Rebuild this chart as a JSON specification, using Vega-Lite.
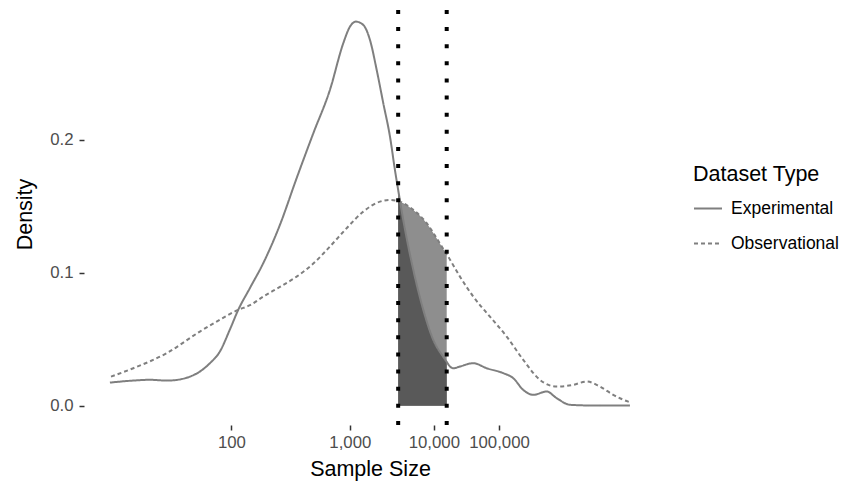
{
  "$schema": "https://vega.github.io/schema/vega-lite/v6.json",
  "width": 572,
  "height": 422,
  "autosize": {"type": "none"},
  "padding": {"left": 84, "top": 3, "right": 188, "bottom": 60},
  "background": "white",
  "config": {
    "view": {"stroke": null},
    "font": "Liberation Sans",
    "axis": {
      "grid": false,
      "domain": false,
      "tickColor": "#333333",
      "tickSize": 5,
      "tickWidth": 1.5,
      "labelColor": "#4D4D4D",
      "labelFont": "Liberation Sans",
      "labelFontSize": 16.8,
      "titleFont": "Liberation Sans",
      "titleFontSize": 21.5,
      "titleFontWeight": "normal",
      "titleColor": "#000000"
    },
    "legend": {
      "titleFont": "Liberation Sans",
      "labelFont": "Liberation Sans"
    }
  },
  "datasets": {
    "curves": [
      {"type": "Experimental", "log10_sample_size": 1.319, "density": 0.0175},
      {"type": "Experimental", "log10_sample_size": 1.427, "density": 0.0190},
      {"type": "Experimental", "log10_sample_size": 1.513, "density": 0.0196},
      {"type": "Experimental", "log10_sample_size": 1.604, "density": 0.0190},
      {"type": "Experimental", "log10_sample_size": 1.677, "density": 0.0199},
      {"type": "Experimental", "log10_sample_size": 1.735, "density": 0.0220},
      {"type": "Experimental", "log10_sample_size": 1.795, "density": 0.0258},
      {"type": "Experimental", "log10_sample_size": 1.858, "density": 0.0321},
      {"type": "Experimental", "log10_sample_size": 1.923, "density": 0.0410},
      {"type": "Experimental", "log10_sample_size": 1.990, "density": 0.0576},
      {"type": "Experimental", "log10_sample_size": 2.047, "density": 0.0722},
      {"type": "Experimental", "log10_sample_size": 2.131, "density": 0.0887},
      {"type": "Experimental", "log10_sample_size": 2.230, "density": 0.1073},
      {"type": "Experimental", "log10_sample_size": 2.361, "density": 0.1361},
      {"type": "Experimental", "log10_sample_size": 2.500, "density": 0.1712},
      {"type": "Experimental", "log10_sample_size": 2.647, "density": 0.2050},
      {"type": "Experimental", "log10_sample_size": 2.802, "density": 0.2376},
      {"type": "Experimental", "log10_sample_size": 2.933, "density": 0.2727},
      {"type": "Experimental", "log10_sample_size": 3.001, "density": 0.2852},
      {"type": "Experimental", "log10_sample_size": 3.063, "density": 0.2890},
      {"type": "Experimental", "log10_sample_size": 3.141, "density": 0.2865},
      {"type": "Experimental", "log10_sample_size": 3.214, "density": 0.2752},
      {"type": "Experimental", "log10_sample_size": 3.289, "density": 0.2526},
      {"type": "Experimental", "log10_sample_size": 3.364, "density": 0.2276},
      {"type": "Experimental", "log10_sample_size": 3.442, "density": 0.2025},
      {"type": "Experimental", "log10_sample_size": 3.501, "density": 0.1774},
      {"type": "Experimental", "log10_sample_size": 3.540, "density": 0.1624},
      {"type": "Experimental", "log10_sample_size": 3.602, "density": 0.1398},
      {"type": "Experimental", "log10_sample_size": 3.728, "density": 0.1023},
      {"type": "Experimental", "log10_sample_size": 3.858, "density": 0.0722},
      {"type": "Experimental", "log10_sample_size": 3.992, "density": 0.0496},
      {"type": "Experimental", "log10_sample_size": 4.131, "density": 0.0368},
      {"type": "Experimental", "log10_sample_size": 4.180, "density": 0.0331},
      {"type": "Experimental", "log10_sample_size": 4.227, "density": 0.0296},
      {"type": "Experimental", "log10_sample_size": 4.275, "density": 0.0283},
      {"type": "Experimental", "log10_sample_size": 4.374, "density": 0.0296},
      {"type": "Experimental", "log10_sample_size": 4.578, "density": 0.0321},
      {"type": "Experimental", "log10_sample_size": 4.793, "density": 0.0283},
      {"type": "Experimental", "log10_sample_size": 5.073, "density": 0.0246},
      {"type": "Experimental", "log10_sample_size": 5.250, "density": 0.0208},
      {"type": "Experimental", "log10_sample_size": 5.433, "density": 0.0120},
      {"type": "Experimental", "log10_sample_size": 5.622, "density": 0.0083},
      {"type": "Experimental", "log10_sample_size": 5.886, "density": 0.0108},
      {"type": "Experimental", "log10_sample_size": 6.091, "density": 0.0058},
      {"type": "Experimental", "log10_sample_size": 6.375, "density": 0.0008},
      {"type": "Experimental", "log10_sample_size": 6.827, "density": 0.0003},
      {"type": "Experimental", "log10_sample_size": 7.829, "density": 0.0003},
      {"type": "Observational", "log10_sample_size": 1.324, "density": 0.0220},
      {"type": "Observational", "log10_sample_size": 1.429, "density": 0.0283},
      {"type": "Observational", "log10_sample_size": 1.602, "density": 0.0396},
      {"type": "Observational", "log10_sample_size": 1.795, "density": 0.0559},
      {"type": "Observational", "log10_sample_size": 1.901, "density": 0.0634},
      {"type": "Observational", "log10_sample_size": 2.047, "density": 0.0722},
      {"type": "Observational", "log10_sample_size": 2.131, "density": 0.0757},
      {"type": "Observational", "log10_sample_size": 2.230, "density": 0.0822},
      {"type": "Observational", "log10_sample_size": 2.361, "density": 0.0895},
      {"type": "Observational", "log10_sample_size": 2.500, "density": 0.0972},
      {"type": "Observational", "log10_sample_size": 2.647, "density": 0.1070},
      {"type": "Observational", "log10_sample_size": 2.802, "density": 0.1198},
      {"type": "Observational", "log10_sample_size": 2.967, "density": 0.1336},
      {"type": "Observational", "log10_sample_size": 3.141, "density": 0.1461},
      {"type": "Observational", "log10_sample_size": 3.326, "density": 0.1536},
      {"type": "Observational", "log10_sample_size": 3.442, "density": 0.1549},
      {"type": "Observational", "log10_sample_size": 3.540, "density": 0.1540},
      {"type": "Observational", "log10_sample_size": 3.562, "density": 0.1536},
      {"type": "Observational", "log10_sample_size": 3.728, "density": 0.1474},
      {"type": "Observational", "log10_sample_size": 3.903, "density": 0.1374},
      {"type": "Observational", "log10_sample_size": 4.038, "density": 0.1261},
      {"type": "Observational", "log10_sample_size": 4.155, "density": 0.1160},
      {"type": "Observational", "log10_sample_size": 4.180, "density": 0.1140},
      {"type": "Observational", "log10_sample_size": 4.374, "density": 0.0972},
      {"type": "Observational", "log10_sample_size": 4.578, "density": 0.0822},
      {"type": "Observational", "log10_sample_size": 4.847, "density": 0.0671},
      {"type": "Observational", "log10_sample_size": 5.133, "density": 0.0521},
      {"type": "Observational", "log10_sample_size": 5.433, "density": 0.0346},
      {"type": "Observational", "log10_sample_size": 5.753, "density": 0.0195},
      {"type": "Observational", "log10_sample_size": 6.091, "density": 0.0145},
      {"type": "Observational", "log10_sample_size": 6.447, "density": 0.0158},
      {"type": "Observational", "log10_sample_size": 6.750, "density": 0.0183},
      {"type": "Observational", "log10_sample_size": 7.065, "density": 0.0145},
      {"type": "Observational", "log10_sample_size": 7.394, "density": 0.0083},
      {"type": "Observational", "log10_sample_size": 7.784, "density": 0.0032},
      {"type": "Observational", "log10_sample_size": 7.829, "density": 0.0028}
    ],
    "bounds": [
      {"log10_sample_size": 3.54},
      {"log10_sample_size": 4.18}
    ]
  },
  "layer": [
    {
      "data": {"name": "curves"},
      "transform": [
        {"filter": "datum.type === 'Observational' && datum.log10_sample_size >= 3.54 && datum.log10_sample_size <= 4.18"}
      ],
      "mark": {"type": "area", "color": "#8E8E8E", "opacity": 1, "interpolate": "monotone"},
      "encoding": {
        "x": {"field": "log10_sample_size", "type": "quantitative"},
        "y": {"field": "density", "type": "quantitative"},
        "y2": {"datum": 0}
      }
    },
    {
      "data": {"name": "curves"},
      "transform": [
        {"filter": "datum.type === 'Experimental' && datum.log10_sample_size >= 3.54 && datum.log10_sample_size <= 4.18"}
      ],
      "mark": {"type": "area", "color": "#595959", "opacity": 1, "interpolate": "monotone"},
      "encoding": {
        "x": {"field": "log10_sample_size", "type": "quantitative"},
        "y": {"field": "density", "type": "quantitative"},
        "y2": {"datum": 0}
      }
    },
    {
      "data": {"name": "curves"},
      "mark": {"type": "line", "color": "#7F7F7F", "strokeWidth": 2, "interpolate": "monotone"},
      "encoding": {
        "x": {
          "field": "log10_sample_size",
          "type": "quantitative",
          "scale": {"type": "log", "domain": [1.207, 8.56], "nice": false, "zero": false},
          "axis": {
            "title": "Sample Size",
            "values": [2, 3, 4, 5],
            "labelExpr": "format(pow(10, datum.value), ',')",
            "labelPadding": 4,
            "titlePadding": 8
          }
        },
        "y": {
          "field": "density",
          "type": "quantitative",
          "scale": {"domain": [-0.0144, 0.303], "nice": false, "zero": false},
          "axis": {
            "title": "Density",
            "values": [0, 0.1, 0.2],
            "format": ".1f",
            "labelPadding": 6,
            "titlePadding": 13
          }
        },
        "strokeDash": {
          "field": "type",
          "type": "nominal",
          "scale": {"domain": ["Experimental", "Observational"], "range": [[1, 0], [4, 3]]},
          "legend": {
            "title": "Dataset Type",
            "orient": "none",
            "legendX": 609,
            "legendY": 161,
            "symbolType": "stroke",
            "symbolSize": 784,
            "symbolStrokeColor": "#7F7F7F",
            "symbolStrokeWidth": 2,
            "titleFontSize": 21.5,
            "titleFontWeight": "normal",
            "titleColor": "#000000",
            "titlePadding": 8,
            "labelFontSize": 17.5,
            "labelColor": "#000000",
            "labelOffset": 8,
            "rowPadding": 11
          }
        }
      }
    },
    {
      "data": {"name": "bounds"},
      "mark": {"type": "rule", "color": "#000000", "strokeWidth": 4, "strokeDash": [4, 13.13]},
      "encoding": {
        "x": {"field": "log10_sample_size", "type": "quantitative"},
        "y": {"datum": -0.0144},
        "y2": {"datum": 0.303}
      }
    }
  ]
}
